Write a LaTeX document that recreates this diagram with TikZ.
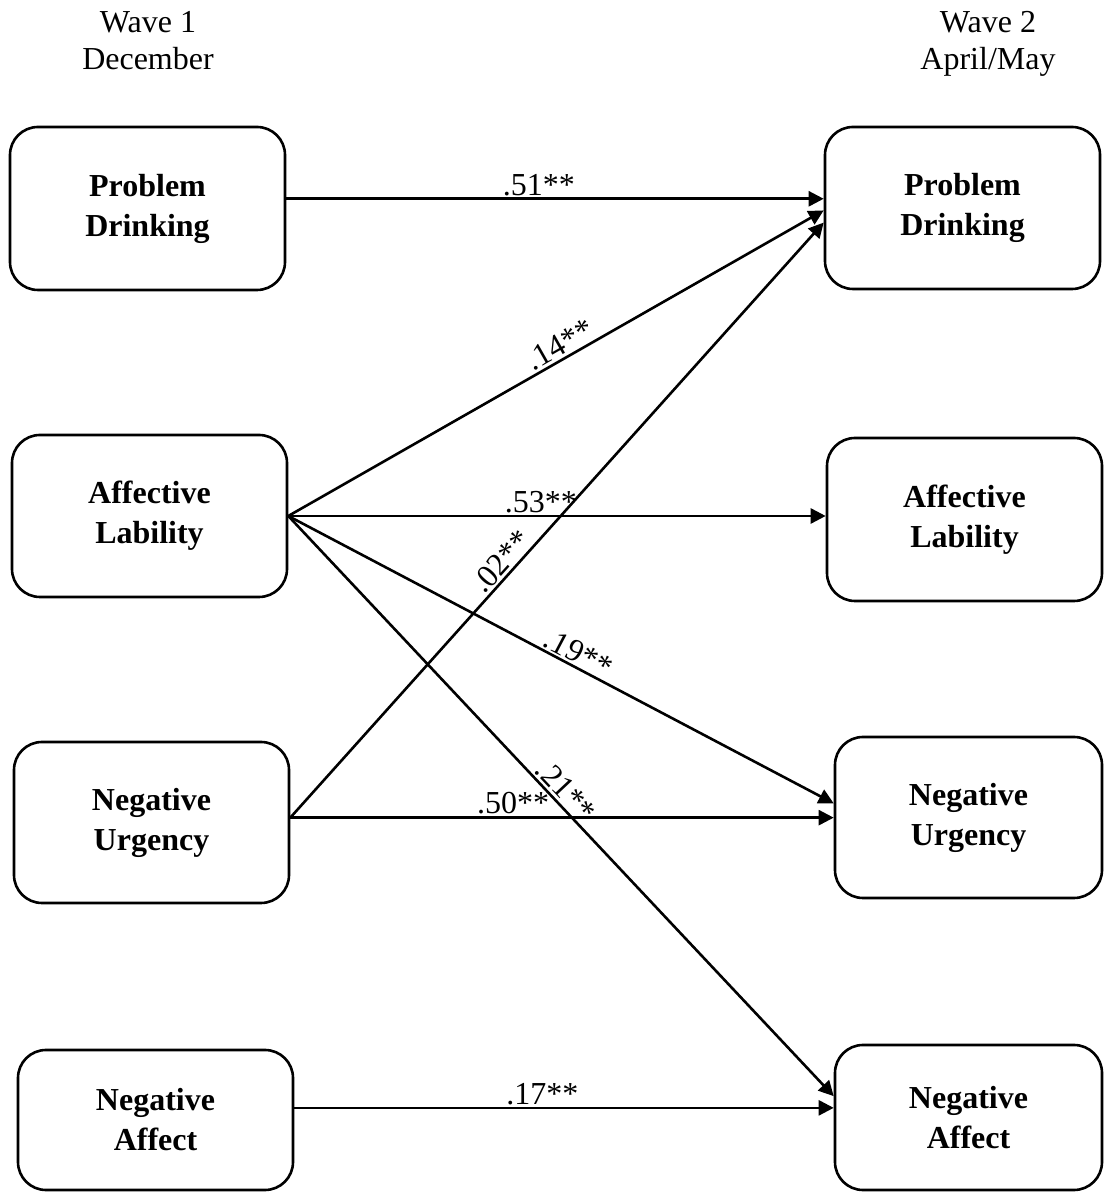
\documentclass[tikz,border=0pt]{standalone}
\usepackage{fontspec}
\setmainfont{Liberation Serif}
\usetikzlibrary{arrows.meta}
\tikzset{
  varbox/.style={draw, line width=1.3pt, rounded corners=14pt, minimum width=137.5pt, minimum height=81pt, inner sep=0pt, align=center, font=\fontsize{16}{20}\selectfont\bfseries},
  effect/.style={line width=1.3pt, -{Triangle[length=7.5pt,width=7.5pt]}},
  coef/.style={font=\fontsize{16}{18}\selectfont, inner sep=1pt, sloped, above},
  wave/.style={align=center, anchor=north, inner sep=0pt, font=\fontsize{16}{18.5}\selectfont}
}
\begin{document}
\begin{tikzpicture}[x=0.5pt,y=0.5pt]
\useasboundingbox (0,0) rectangle (1103,1193);
% Text Node
\node[wave] (w1) at (148,1182) {Wave 1\\December};
% Text Node
\node[wave] (w2) at (988,1182) {Wave 2\\April/May};
%Shape: Wave 1 boxes
\node[varbox, minimum height=81.5pt] (pd1) at (147.5,984.5) {Problem\\Drinking};
\node[varbox] (al1) at (149.5,677) {Affective\\Lability};
\node[varbox, minimum height=80.5pt] (nu1) at (151.5,370.5) {Negative\\Urgency};
\node[varbox, minimum height=70pt] (na1) at (155.5,73) {Negative\\Affect};
%Shape: Wave 2 boxes
\node[varbox] (pd2) at (962.5,985) {Problem\\Drinking};
\node[varbox, minimum height=81.5pt] (al2) at (964.5,673.5) {Affective\\Lability};
\node[varbox, minimum width=133.5pt, minimum height=80.5pt] (nu2) at (968.5,375.5) {Negative\\Urgency};
\node[varbox, minimum width=133.5pt, minimum height=72.5pt] (na2) at (968.5,75.5) {Negative\\Affect};
%Straight Lines: stability paths
\draw[effect] (pd1.4.4) -- (pd1.4.4 -| pd2.west) node[coef, pos=0.47] {.51**};
\draw[effect] (al1.east) -- (al1.east -| al2.west) node[coef, pos=0.47] {.53**};
\draw[effect] (nu1.2.3) -- (nu1.2.3 -| nu2.west) node[coef, pos=0.41] {.50**};
\draw[effect] (na1.5.4) -- (na1.5.4 -| na2.west) node[coef, pos=0.46] {.17**};
%Straight Lines: cross-lagged paths
\draw[effect] (al1.east) -- (pd2.181.2) node[coef, pos=0.52] {.14**};
\draw[effect] (nu1.2.3) -- (pd2.186.6) node[coef, pos=0.415] {.02**};
\draw[effect] (al1.east) -- (nu2.174.7) node[coef, pos=0.52] {.19**};
\draw[effect] (al1.east) -- (na2.171.3) node[coef, pos=0.49] {.21**};
\end{tikzpicture}
\end{document}
